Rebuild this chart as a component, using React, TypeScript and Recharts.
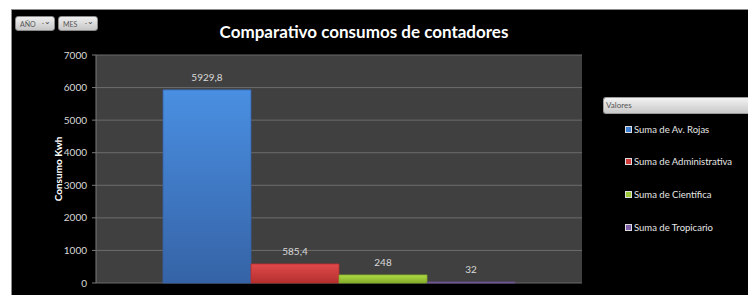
import React from "react";
import {
  BarChart,
  Bar,
  XAxis,
  YAxis,
  CartesianGrid,
  LabelList,
} from "recharts";

const category = ["Total"];
const seriesNames = [
  "Suma de Av. Rojas",
  "Suma de Administrativa",
  "Suma de Científica",
  "Suma de Tropicario",
];
const seriesValues = [5929.8, 585.4, 248, 32];
const seriesColors = ["#3d7fd3", "#d03c3c", "#9cc838", "#7f5fa8"];
const gradientStops = [
  ["#4a8fe2", "#3563a6"],
  ["#e04a4a", "#b52f2f"],
  ["#b0dc45", "#84ab2a"],
  ["#9074b8", "#6a4f90"],
];
const yTicks = [0, 1000, 2000, 3000, 4000, 5000, 6000, 7000];

const data = category.map((name) => {
  const row: Record<string, string | number> = { name };
  seriesNames.forEach((s, i) => {
    row["s" + i] = seriesValues[i];
  });
  return row;
});

const fmt = (v: number) => String(v).replace(".", ",");

const FONT = "Lato, 'Open Sans', sans-serif";

const LegendBox = () => (
  <div
    style={{
      position: "absolute",
      left: 603,
      top: 97,
      width: 145,
      fontFamily: FONT,
    }}
  >
    <div
      style={{
        height: 15,
        borderRadius: "3px 0 0 3px",
        background: "linear-gradient(#f2f2f2, #c9c9c9)",
        border: "1px solid #9a9a9a",
        borderRight: "none",
        fontSize: 8,
        color: "#555",
        lineHeight: "15px",
        paddingLeft: 2,
      }}
    >
      Valores
    </div>
    {seriesNames.map((n, i) => (
      <div
        key={n}
        style={{
          display: "flex",
          alignItems: "center",
          marginLeft: 22,
          marginTop: i === 0 ? 9 : 20,
          height: 12.6,
          fontSize: 9.5,
          color: "#e6e6e6",
        }}
      >
        <span
          style={{
            width: 5,
            height: 5,
            background: seriesColors[i],
            border: "0.5px solid #ddd",
            marginRight: 2,
          }}
        />
        {n}
      </div>
    ))}
  </div>
);

const FilterButton = ({ text, left }: { text: string; left: number }) => (
  <div
    style={{
      position: "absolute",
      left,
      top: 16,
      width: 40,
      height: 15,
      borderRadius: 3,
      background: "linear-gradient(#efefef, #c6c6c6)",
      border: "1px solid #8a8a8a",
      fontFamily: FONT,
      fontSize: 7,
      color: "#555",
      lineHeight: "15px",
      paddingLeft: 4,
      boxSizing: "border-box",
    }}
  >
    {text}
    <span style={{ position: "absolute", right: 3, top: -3, fontSize: 8, color: "#444" }}>
      .⌄
    </span>
  </div>
);

const App = () => {
  return (
    <div
      style={{
        position: "fixed",
        left: 0,
        top: 0,
        width: 748,
        height: 295,
        background: "#ffffff",
        overflow: "hidden",
      }}
    >
      <div
        style={{
          position: "absolute",
          left: 11,
          top: 9,
          width: 737,
          height: 286,
          background: "#000000",
          borderTop: "1px solid #8c8c8c",
          borderLeft: "1px solid #8c8c8c",
          boxSizing: "border-box",
        }}
      />
      <div style={{ position: "absolute", left: 0, top: 0 }}>
        <BarChart
          width={748}
          height={295}
          data={data}
          margin={{ top: 55, right: 166, bottom: 12, left: 0 }}
          barCategoryGap={67}
          barGap={0}
        >
          <defs>
            {gradientStops.map((g, i) => (
              <linearGradient key={i} id={"grad" + i} x1="0" y1="0" x2="0" y2="1">
                <stop offset="0%" stopColor={g[0]} />
                <stop offset="100%" stopColor={g[1]} />
              </linearGradient>
            ))}
          </defs>
          <CartesianGrid
            vertical={false}
            fill="#404040"
            stroke="#6b6b6b"
            strokeWidth={1}
          />
          <XAxis dataKey="name" hide />
          <YAxis
            width={96}
            domain={[0, 7000]}
            ticks={yTicks}
            interval={0}
            tickSize={4}
            tickMargin={5}
            axisLine={{ stroke: "#7a7a7a" }}
            tickLine={{ stroke: "#7a7a7a" }}
            tick={{ fill: "#d9d9d9", fontSize: 10, fontFamily: FONT }}
            label={{
              value: "Consumo Kwh",
              angle: -90,
              position: "insideLeft",
              offset: 58,
              style: {
                textAnchor: "middle",
                fill: "#ffffff",
                fontSize: 10,
                fontWeight: "bold",
                fontFamily: FONT,
              },
            }}
          />
          {seriesNames.map((n, i) => (
            <Bar
              key={n}
              dataKey={"s" + i}
              name={n}
              fill={`url(#grad${i})`}
              stroke={gradientStops[i][1]}
              strokeWidth={0.8}
              isAnimationActive={false}
            >
              <LabelList
                dataKey={"s" + i}
                position="top"
                offset={9}
                formatter={(v: any) => fmt(Number(v))}
                style={{ fill: "#d9d9d9", fontSize: 10, fontFamily: FONT }}
              />
            </Bar>
          ))}
        </BarChart>
      </div>
      <div
        style={{
          position: "absolute",
          left: 11,
          width: 706,
          top: 21,
          textAlign: "center",
          fontFamily: FONT,
          fontWeight: "bold",
          fontSize: 17,
          color: "#ffffff",
        }}
      >
        Comparativo consumos de contadores
      </div>
      <FilterButton text="AÑO" left={15} />
      <FilterButton text="MES" left={58} />
      <LegendBox />
    </div>
  );
};

export default App;
